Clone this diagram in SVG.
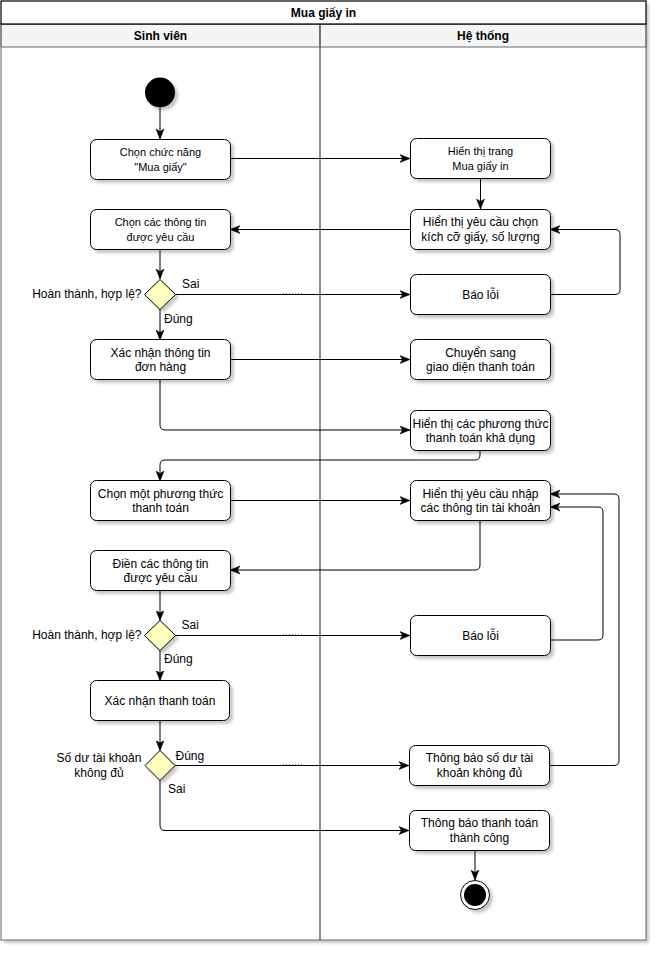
<svg xmlns="http://www.w3.org/2000/svg" width="657" height="953" viewBox="0 0 657 953">
  <style>
    text { font-family: "Liberation Sans", Arial, Helvetica, sans-serif; font-size: 12px; fill: #000; }
    .c { text-anchor: middle; }
    .e { text-anchor: end; }
    .s11 { font-size: 11px; }
    .b { font-weight: bold; }
    .act { fill: #fff; stroke: #000; stroke-width: 1; }
    .dec { fill: #ffffc0; stroke: #000; stroke-width: 1; }
    .lane { fill: none; stroke: #666; stroke-width: 1; }
    .lanehead { fill: #f5f5f5; stroke: #666; stroke-width: 1; }
    .edge { fill: none; stroke: #000; stroke-width: 1; marker-end: url(#arrow); }
    .dots { fill: none; stroke: #888; stroke-width: 1; stroke-dasharray: 1 2; }
  </style>
  <defs>
    <filter id="shadow" x="-10%" y="-10%" width="130%" height="130%">
      <feDropShadow dx="3" dy="3" stdDeviation="1.5" flood-color="#000" flood-opacity="0.22"/>
    </filter>
    <marker id="arrow" viewBox="0 0 10 10" refX="10" refY="5" markerWidth="10" markerHeight="10" markerUnits="userSpaceOnUse" orient="auto">
      <path d="M0,1 L10,5 L0,9 L2.5,5 z" fill="#000" stroke="#000" stroke-width="0.5"/>
    </marker>
  </defs>

  <rect width="657" height="953" fill="#fff"/>

  <!-- Pool with two lanes -->
  <g id="pool">
    <rect x="1" y="1" width="645" height="939" fill="#fff" stroke="none" filter="url(#shadow)"/>
    <rect x="1" y="24" width="319" height="23" class="lanehead"/>
    <rect x="320" y="24" width="326" height="23" class="lanehead"/>
    <rect x="1" y="24" width="319" height="916" class="lane"/>
    <rect x="320" y="24" width="326" height="916" class="lane"/>
    <rect x="1" y="1" width="645" height="23" fill="#fff" stroke="#000" stroke-width="1.2"/>
    <text x="323.5" y="17" class="c b">Mua giấy in</text>
    <text x="160.5" y="40" class="c b">Sinh viên</text>
    <text x="483" y="40" class="c b">Hệ thống</text>
  </g>

  <!-- Connectors -->
  <g id="edges">
    <path class="edge" d="M160,108 L160,139"/>
    <path class="edge" d="M230,158.5 L410,158.5"/>
    <path class="edge" d="M480.5,178 L480.5,209"/>
    <path class="edge" d="M410,229.5 L230,229.5"/>
    <path class="edge" d="M160,249 L160,279"/>
    <path class="edge" d="M175,294.5 L410,294.5"/>
    <path class="edge" d="M550,294.5 L615,294.5 Q620,294.5 620,289.5 L620,234.5 Q620,229.5 615,229.5 L550,229.5"/>
    <path class="edge" d="M160,309 L160,340"/>
    <path class="edge" d="M230,359.5 L410,359.5"/>
    <path class="edge" d="M160,379 L160,425 Q160,430 165,430 L410,430"/>
    <path class="edge" d="M480,450 L480,455 Q480,460 475,460 L165,460 Q160,460 160,465 L160,481"/>
    <path class="edge" d="M230,500.5 L410,500.5"/>
    <path class="edge" d="M480,520 L480,565 Q480,570 475,570 L230,570"/>
    <path class="edge" d="M160,590 L160,620.5"/>
    <path class="edge" d="M175,635.5 L410,635.5"/>
    <path class="edge" d="M550,640 L598,640 Q603,640 603,635 L603,512 Q603,507 598,507 L550,507"/>
    <path class="edge" d="M160,650 L160,680.5"/>
    <path class="edge" d="M160,720.5 L160,750.5"/>
    <path class="edge" d="M175,765.5 L409,765.5"/>
    <path class="edge" d="M549,765.5 L614,765.5 Q619,765.5 619,760.5 L619,499 Q619,494 614,494 L550,494"/>
    <path class="edge" d="M160,780 L160,825 Q160,830.5 165,830.5 L409,830.5"/>
    <path class="edge" d="M475,850 L475,880"/>
    <path class="dots" d="M283,293.5 L304,293.5"/>
    <path class="dots" d="M283,634.5 L304,634.5"/>
    <path class="dots" d="M283,764.5 L304,764.5"/>
  </g>

  <!-- Nodes: Sinh viên lane -->
  <g id="start">
    <circle cx="160" cy="92.5" r="15" fill="#000" filter="url(#shadow)"/>
  </g>
  <g id="chon-chuc-nang">
    <rect x="90.5" y="139.5" width="140" height="40" rx="6" class="act" filter="url(#shadow)"/>
    <text x="160.5" y="156" class="c s11">Chọn chức năng</text>
    <text x="160.5" y="170.5" class="c s11">"Mua giấy"</text>
  </g>
  <g id="chon-thong-tin">
    <rect x="90.5" y="209.5" width="140" height="40" rx="6" class="act" filter="url(#shadow)"/>
    <text x="160.5" y="226" class="c s11">Chọn các thông tin</text>
    <text x="160.5" y="240.5" class="c s11">được yêu cầu</text>
  </g>
  <g id="kiem-tra-1">
    <path d="M160,279.5 L175.5,294.5 L160,309.5 L144.5,294.5 Z" class="dec" filter="url(#shadow)"/>
    <text x="141.5" y="298" class="e">Hoàn thành, hợp lệ?</text>
    <text x="182" y="287.5">Sai</text>
    <text x="164" y="322.5">Đúng</text>
  </g>
  <g id="xac-nhan-don-hang">
    <rect x="90.5" y="339.5" width="140" height="40" rx="6" class="act" filter="url(#shadow)"/>
    <text x="160.5" y="356.5" class="c">Xác nhận thông tin</text>
    <text x="160.5" y="371" class="c">đơn hàng</text>
  </g>
  <g id="chon-phuong-thuc">
    <rect x="90.5" y="480.5" width="140" height="40" rx="6" class="act" filter="url(#shadow)"/>
    <text x="160.5" y="497.5" class="c">Chọn một phương thức</text>
    <text x="160.5" y="512" class="c">thanh toán</text>
  </g>
  <g id="dien-thong-tin">
    <rect x="90.5" y="550.5" width="140" height="40" rx="6" class="act" filter="url(#shadow)"/>
    <text x="160.5" y="567.5" class="c">Điền các thông tin</text>
    <text x="160.5" y="582" class="c">được yêu cầu</text>
  </g>
  <g id="kiem-tra-2">
    <path d="M160,620.5 L175.5,635.5 L160,650.5 L144.5,635.5 Z" class="dec" filter="url(#shadow)"/>
    <text x="141.5" y="639" class="e">Hoàn thành, hợp lệ?</text>
    <text x="181.5" y="628.5">Sai</text>
    <text x="164" y="663">Đúng</text>
  </g>
  <g id="xac-nhan-thanh-toan">
    <rect x="90.5" y="680.5" width="139" height="40" rx="6" class="act" filter="url(#shadow)"/>
    <text x="160" y="704.5" class="c">Xác nhận thanh toán</text>
  </g>
  <g id="kiem-tra-so-du">
    <path d="M160,750.5 L175,765.5 L160,780.5 L145,765.5 Z" class="dec" filter="url(#shadow)"/>
    <text x="99" y="761.5" class="c">Số dư tài khoản</text>
    <text x="99" y="776.5" class="c">không đủ</text>
    <text x="175.5" y="759.5">Đúng</text>
    <text x="168" y="792.5">Sai</text>
  </g>

  <!-- Nodes: Hệ thống lane -->
  <g id="hien-thi-trang">
    <rect x="410.5" y="138.5" width="140" height="40" rx="6" class="act" filter="url(#shadow)"/>
    <text x="480.5" y="155" class="c s11">Hiển thị trang</text>
    <text x="480.5" y="169.5" class="c s11">Mua giấy in</text>
  </g>
  <g id="yeu-cau-chon">
    <rect x="410.5" y="209.5" width="140" height="40" rx="6" class="act" filter="url(#shadow)"/>
    <text x="480.5" y="226" class="c">Hiển thị yêu cầu chọn</text>
    <text x="480.5" y="241" class="c">kích cỡ giấy, số lượng</text>
  </g>
  <g id="bao-loi-1">
    <rect x="410.5" y="274.5" width="140" height="40" rx="6" class="act" filter="url(#shadow)"/>
    <text x="480.5" y="298.5" class="c">Báo lỗi</text>
  </g>
  <g id="chuyen-sang">
    <rect x="410.5" y="339.5" width="140" height="40" rx="6" class="act" filter="url(#shadow)"/>
    <text x="480.5" y="356.5" class="c">Chuyển sang</text>
    <text x="480.5" y="371" class="c">giao diện thanh toán</text>
  </g>
  <g id="hien-thi-phuong-thuc">
    <rect x="410.5" y="410.5" width="140" height="40" rx="6" class="act" filter="url(#shadow)"/>
    <text x="480.5" y="427.5" class="c">Hiển thị các phương thức</text>
    <text x="480.5" y="442" class="c">thanh toán khả dụng</text>
  </g>
  <g id="yeu-cau-nhap">
    <rect x="410.5" y="480.5" width="140" height="40" rx="6" class="act" filter="url(#shadow)"/>
    <text x="480.5" y="497.5" class="c">Hiển thị yêu cầu nhập</text>
    <text x="480.5" y="512" class="c">các thông tin tài khoản</text>
  </g>
  <g id="bao-loi-2">
    <rect x="410.5" y="615.5" width="140" height="40" rx="6" class="act" filter="url(#shadow)"/>
    <text x="480.5" y="639.5" class="c">Báo lỗi</text>
  </g>
  <g id="so-du-khong-du">
    <rect x="409.5" y="745.5" width="140" height="40" rx="6" class="act" filter="url(#shadow)"/>
    <text x="479.5" y="762" class="c">Thông báo số dư tài</text>
    <text x="479.5" y="777" class="c">khoản không đủ</text>
  </g>
  <g id="thanh-toan-thanh-cong">
    <rect x="409.5" y="810.5" width="140" height="40" rx="6" class="act" filter="url(#shadow)"/>
    <text x="479.5" y="827" class="c">Thông báo thanh toán</text>
    <text x="479.5" y="842" class="c">thành công</text>
  </g>
  <g id="end">
    <circle cx="475" cy="895" r="14.5" fill="#fff" stroke="#000" stroke-width="1" filter="url(#shadow)"/>
    <circle cx="475" cy="895" r="11" fill="#000"/>
  </g>
</svg>
